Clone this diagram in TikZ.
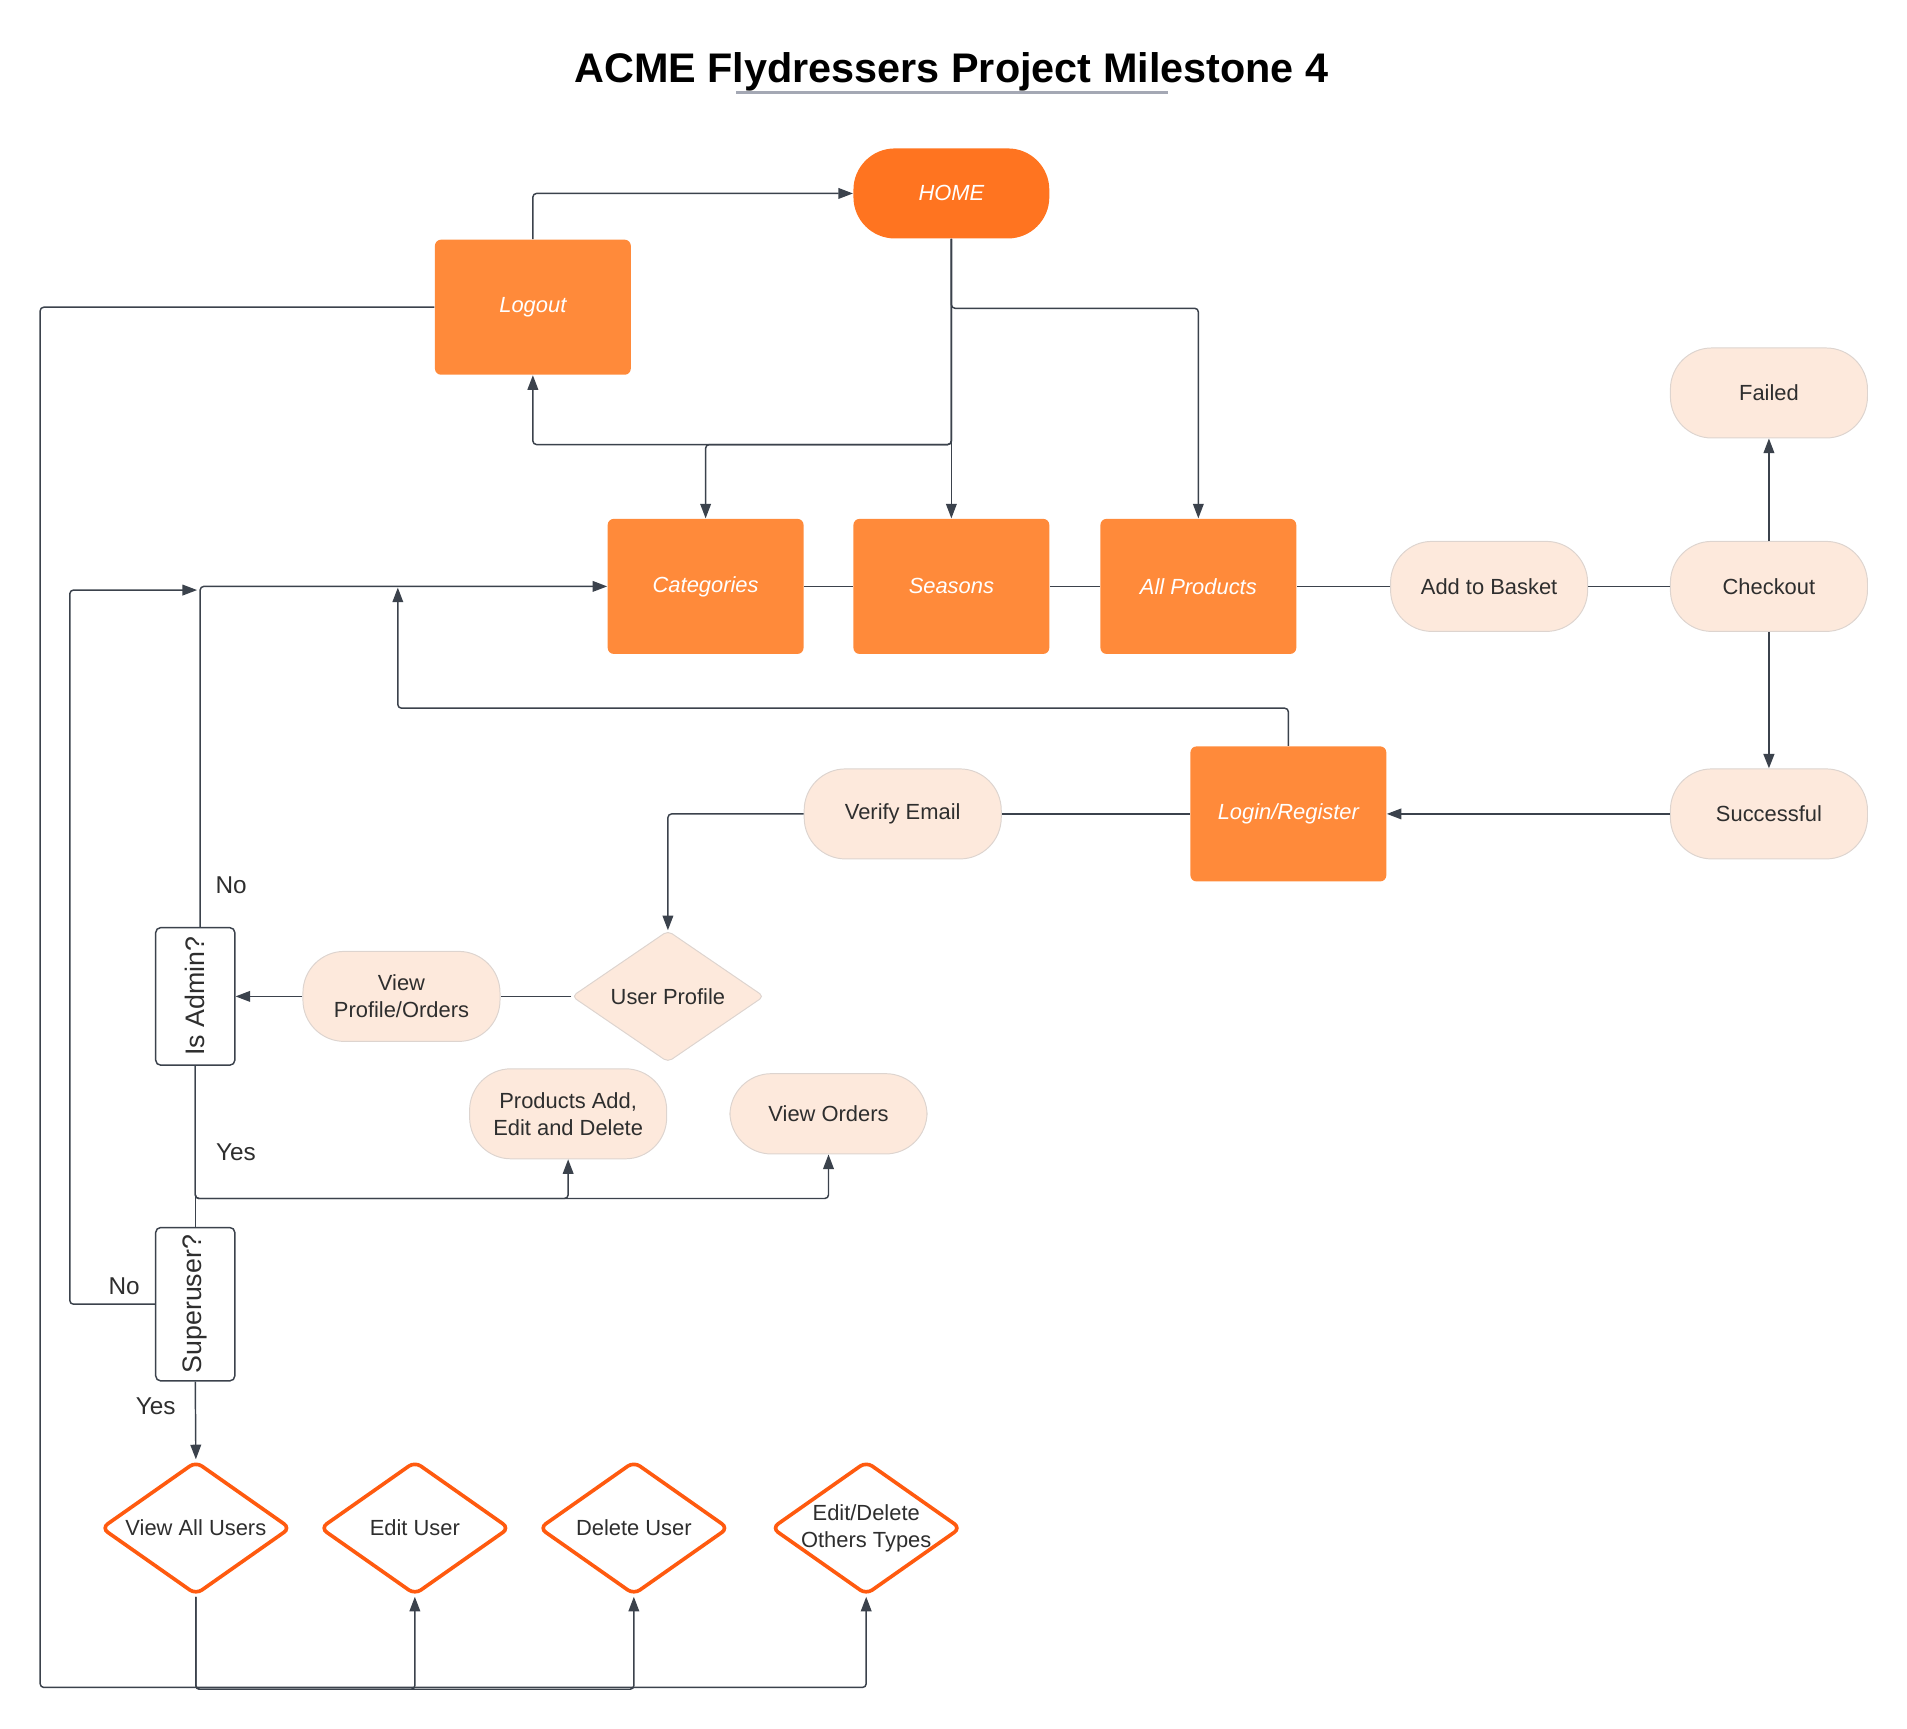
\documentclass[tikz,border=0pt]{standalone}
\usepackage{fontspec}
\setmainfont{Liberation Sans}
\usetikzlibrary{arrows.meta,shapes.geometric}
\definecolor{homeor}{HTML}{FF7420}
\definecolor{boxor}{HTML}{FF8A3A}
\definecolor{peach}{HTML}{FDE9DC}
\definecolor{peachline}{HTML}{DDD4CF}
\definecolor{diaor}{HTML}{FF5A0F}
\definecolor{ln}{HTML}{3B424C}
\definecolor{tx}{HTML}{2E2E2E}
\definecolor{uline}{HTML}{A4A8B4}
\begin{document}
\begin{tikzpicture}[x=0.5pt,y=-0.5pt,
  font=\fontsize{9}{11}\selectfont,
  orbox/.style={rectangle, rounded corners=2.5pt, fill=boxor, minimum width=80.5pt, minimum height=55.5pt, inner sep=0pt, text=white, font=\fontsize{9}{11}\selectfont\itshape},
  homebox/.style={rectangle, rounded corners=17pt, fill=homeor, minimum width=80.5pt, minimum height=37pt, inner sep=0pt, text=white, font=\fontsize{9}{11}\selectfont\itshape},
  pill/.style={rectangle, rounded corners=17pt, fill=peach, draw=peachline, line width=0.4pt, minimum width=81pt, minimum height=37pt, inner sep=0pt, text=tx, align=center},
  pdia/.style={diamond, fill=peach, draw=peachline, line width=0.4pt, rounded corners=2pt, minimum width=79pt, minimum height=54pt, inner sep=0pt},
  odia/.style={diamond, fill=white, draw=diaor, line width=1.5pt, rounded corners=3pt, minimum width=78pt, minimum height=55pt, inner sep=0pt},
  dtext/.style={text=tx, align=center, inner sep=0pt},
  decbox/.style={rectangle, draw=ln, line width=0.6pt, rounded corners=2pt, fill=white, minimum width=32.5pt, inner sep=0pt},
  rtext/.style={rotate=90, text=tx, font=\fontsize{11}{13}\selectfont, inner sep=0pt},
  lbl/.style={text=tx, font=\fontsize{10}{12}\selectfont, inner sep=0pt},
  conn/.style={draw=ln, line width=0.6pt, rounded corners=1.5pt},
  arr/.style={conn, -{Triangle[length=6pt,width=4.4pt]}}
]
\useasboundingbox (0,0) rectangle (1567.5,1420.4);

% title
\node[font=\fontsize{17}{20}\selectfont\bfseries] (title) at (782,59) {ACME Flydressers Project Milestone 4};
\coordinate (ul1) at (605,76);
\coordinate (ul2) at (960,76);
\draw[uline, line width=1pt] (ul1) -- (ul2);

% main nodes
\node[homebox] (home) at (782,159) {HOME};
\node[orbox] (logout) at (438,252.5) {Logout};
\node[orbox] (cat) at (580,482) {Categories};
\node[orbox] (seasons) at (782,482) {Seasons};
\node[orbox] (allprod) at (985,482) {All Products};
\node[pill] (basket) at (1224,482) {Add to Basket};
\node[pill] (checkout) at (1454,482) {Checkout};
\node[pill] (failed) at (1454,323) {Failed};
\node[pill] (success) at (1454,669) {Successful};
\node[orbox] (login) at (1059,669) {Login/Register};
\node[pill] (verify) at (742,669) {Verify Email};
\node[pdia] (uprof) at (549,819) {};
\node[dtext] (uproft) at (uprof) {User Profile};
\node[pill] (vpo) at (330,819) {View\\Profile/Orders};
\node[decbox, minimum height=56.5pt] (isadmin) at (160.5,819) {};
\node[rtext] (isadmint) at (isadmin) {Is Admin?};
\node[pill] (prod) at (467,915.5) {Products Add,\\Edit and Delete};
\node[pill, minimum height=33pt] (vorders) at (681,915.5) {View Orders};
\node[decbox, minimum height=63pt] (superuser) at (160.5,1072) {};
\node[rtext] (superusert) at (superuser) {Superuser?};

\node[odia] (vau) at (161,1256) {};
\node[dtext] (vaut) at (vau) {View All Users};
\node[odia] (edit) at (341,1256) {};
\node[dtext] (editt) at (edit) {Edit User};
\node[odia] (del) at (521,1256) {};
\node[dtext] (delt) at (del) {Delete User};
\node[odia] (eot) at (712,1256) {};
\node[dtext] (eott) at (eot) {Edit/Delete\\Others Types};

% labels
\node[lbl] (no1) at (190,728) {No};
\node[lbl] (yes1) at (194,947) {Yes};
\node[lbl] (no2) at (102,1057) {No};
\node[lbl] (yes2) at (128,1156) {Yes};

% connectors
\draw[arr] (logout.north) |- (home.west);
\draw[arr] (home.south) -- (seasons.north);
\draw[arr] (home.south) -- ++(0,57) -| (allprod.north);
\draw[arr] (home.south) -- ++(0,169) -| (cat.north);
\draw[arr] (home.south) -- ++(0,169) -| (logout.south);

\draw[conn] (cat.east) -- (seasons.west);
\draw[conn] (seasons.east) -- (allprod.west);
\draw[conn] (allprod.east) -- (basket.west);
\draw[conn] (basket.east) -- (checkout.west);
\draw[arr] (checkout.north) -- (failed.south);
\draw[arr, line width=1pt] (checkout.south) -- (success.north);
\draw[arr] (success.west) -- (login.east);

\coordinate (lj) at (327,483);
\draw[arr] (login.north) -- ++(0,-31) -| (lj);
\draw[conn] (login.west) -- (verify.east);
\draw[arr] (verify.west) -| (uprof.north);
\draw[conn] (uprof.west) -- (vpo.east);
\draw[arr] (vpo.west) -- (isadmin.east);

\draw[arr] ([xshift=2pt]isadmin.north) |- (cat.west);
\draw[conn] (isadmin.south) -- (superuser.north);
\draw[arr] (isadmin.south) -- ++(0,109) -| (prod.south);
\draw[arr] (isadmin.south) -- ++(0,109) -| (vorders.south);

\coordinate (sj) at (162,485);
\draw[arr] (superuser.west) -- ++(-70,0) |- (sj);
\draw[arr] (superuser.south) -- (vau.north);

\coordinate (bl) at (33,1387);
\draw[arr] (logout.west) -| (bl) -| (eot.south);
\draw[arr] (vau.south) -- ++(0,76) -| (edit.south);
\draw[arr] (vau.south) -- ++(0,76) -| (del.south);
\end{tikzpicture}
\end{document}
